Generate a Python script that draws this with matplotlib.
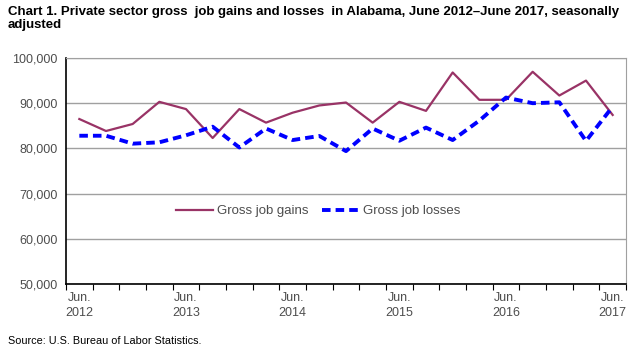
import matplotlib
matplotlib.use("Agg")
import matplotlib.pyplot as plt
import numpy as np

# Quarterly values, June 2012 - June 2017
quarters = ["Jun. 2012", "Sep. 2012", "Dec. 2012", "Mar. 2013",
            "Jun. 2013", "Sep. 2013", "Dec. 2013", "Mar. 2014",
            "Jun. 2014", "Sep. 2014", "Dec. 2014", "Mar. 2015",
            "Jun. 2015", "Sep. 2015", "Dec. 2015", "Mar. 2016",
            "Jun. 2016", "Sep. 2016", "Dec. 2016", "Mar. 2017",
            "Jun. 2017"]
gains = [86500, 83850, 85400, 90300, 88700, 82300, 88700, 85700,
         87900, 89500, 90150, 85700, 90300, 88300, 96800, 90750,
         90750, 96950, 91700, 95000, 87400]
losses = [82800, 82800, 81050, 81350, 82900, 84800, 80200, 84400,
          81850, 82750, 79400, 84400, 81700, 84600, 81850, 86150,
          91250, 90000, 90200, 81650, 89250]
yticks = [50000, 60000, 70000, 80000, 90000, 100000]

TEXT = "#4d4d4d"
GRID = "#a0a0a0"

fig = plt.figure(figsize=(6.42, 3.5), dpi=100)
ax = fig.add_axes([66 / 642, 66 / 350, 560 / 642, 226 / 350])

x = np.arange(len(quarters))
ax.plot(x, gains, color="#993366", lw=1.6, label="Gross job gains")
ax.plot(x, losses, color="#0000ff", lw=2.8, ls=(0, (2.2, 1.3)),
        label="Gross job losses")

ax.set_xlim(-0.5, len(quarters) - 0.5)
ax.set_ylim(yticks[0], yticks[-1])
ax.set_yticks(yticks)
ax.set_yticklabels([f"{v:,}" for v in yticks], color=TEXT, fontsize=9,
                   family="Liberation Sans")
ax.yaxis.grid(True, color=GRID, lw=1)
ax.set_axisbelow(True)
ax.tick_params(axis="y", length=0, pad=6)

# ticks between categories, labels every fourth quarter
ax.set_xticks(np.arange(-0.5, len(quarters), 1.0))
ax.set_xticklabels([])
ax.tick_params(axis="x", which="major", direction="out", length=4,
               color="black")
lab_pos = x[::4]
ax.set_xticks(lab_pos, minor=True)
ax.set_xticklabels([quarters[i].replace(" ", "\n") for i in lab_pos],
                   minor=True, color=TEXT, fontsize=9,
                   family="Liberation Sans", linespacing=1.3)
ax.tick_params(axis="x", which="minor", length=0, pad=6)

for side in ["top", "right"]:
    ax.spines[side].set_color(GRID)
for side in ["left", "bottom"]:
    ax.spines[side].set_color("black")
    ax.spines[side].set_linewidth(1.2)

ax.legend(loc="center", bbox_to_anchor=(0.45, 0.323), ncol=2, frameon=False,
          prop={"family": "Liberation Sans", "size": 9.5}, labelcolor=TEXT,
          handlelength=2.8, handletextpad=0.3, columnspacing=1.0)

fig.text(8 / 642, 1 - 6 / 350,
         "Chart 1. Private sector gross  job gains and losses  in Alabama, "
         "June 2012\u2013June 2017, seasonally\nadjusted",
         ha="left", va="top", fontsize=9.5, fontweight="bold",
         family="Liberation Sans", linespacing=1.1)
fig.text(8 / 642, 1 - 341 / 350, "Source: U.S. Bureau of Labor Statistics.",
         ha="left", va="center", fontsize=7.8, family="Liberation Sans")

fig.savefig("out.png", dpi=100)
